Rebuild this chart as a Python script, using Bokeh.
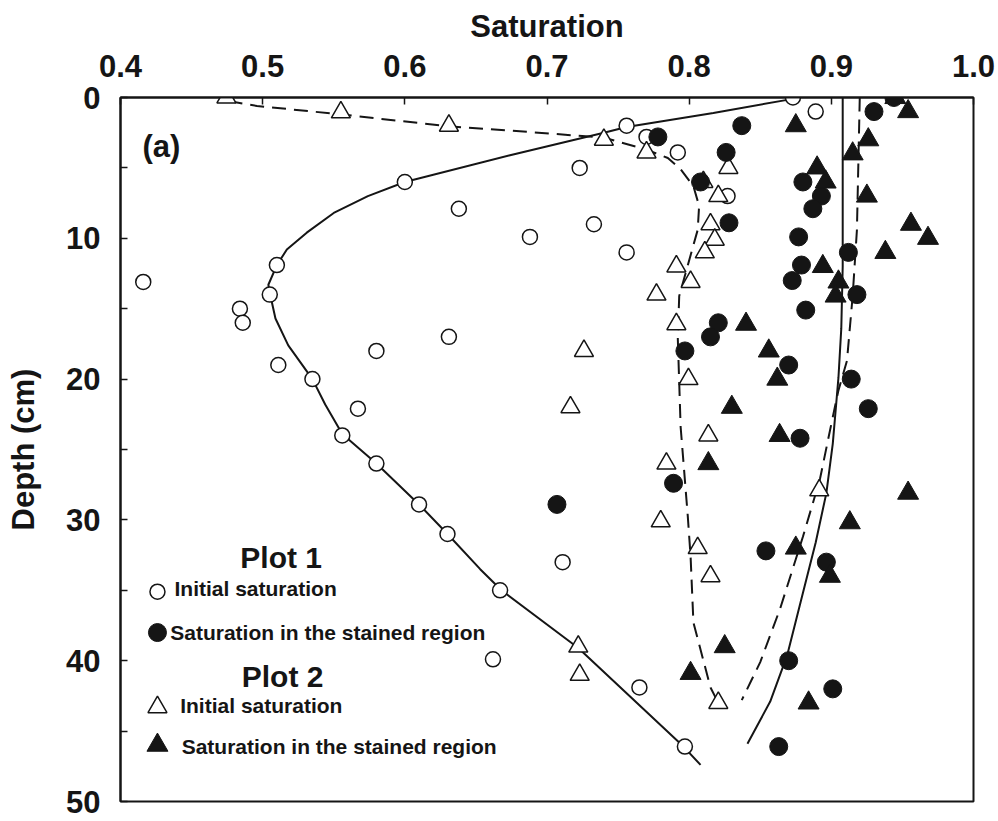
from bokeh.plotting import figure
from bokeh.models import Range1d, FixedTicker, PrintfTickFormatter
from bokeh.core.properties import value
from bokeh.embed import file_html
from bokeh.resources import INLINE

# ---------------- data ----------------
# Plot 1 - initial saturation (open circles)
p1_init_sat = [0.873, 0.889, 0.756, 0.770, 0.792, 0.723, 0.600, 0.827, 0.638, 0.733,
               0.688, 0.756, 0.510, 0.416, 0.505, 0.484, 0.486, 0.631, 0.580, 0.511,
               0.535, 0.567, 0.556, 0.580, 0.610, 0.630, 0.711, 0.667, 0.662, 0.765, 0.797]
p1_init_depth = [0, 1, 2, 2.8, 3.9, 5, 6, 7, 7.9, 9,
                 9.9, 11, 11.9, 13.1, 14, 15, 16, 17, 18, 19,
                 20, 22.1, 24, 26, 28.9, 31, 33, 35, 39.9, 41.9, 46.1]

# Plot 1 - saturation in the stained region (filled circles)
p1_stain_sat = [0.944, 0.930, 0.837, 0.778, 0.826, 0.808, 0.880, 0.893, 0.887, 0.828,
                0.877, 0.912, 0.879, 0.8725, 0.918, 0.882, 0.8205, 0.815, 0.797, 0.870,
                0.914, 0.926, 0.878, 0.789, 0.707, 0.854, 0.8965, 0.870, 0.901, 0.863]
p1_stain_depth = [0, 1, 2, 2.8, 3.9, 6, 6, 7, 7.9, 8.9,
                  9.9, 11, 11.9, 13, 14, 15.1, 16, 17, 18, 19,
                  20, 22.1, 24.2, 27.4, 28.9, 32.2, 33, 40, 42, 46.1]

# Plot 2 - initial saturation (open triangles)
p2_init_sat = [0.4745, 0.555, 0.631, 0.740, 0.770, 0.8276, 0.810, 0.8205, 0.815, 0.818,
               0.811, 0.791, 0.801, 0.777, 0.791, 0.726, 0.7995, 0.7165, 0.8135, 0.784,
               0.8915, 0.780, 0.806, 0.815, 0.722, 0.723, 0.8205]
p2_init_depth = [0, 1.05, 2, 3, 3.9, 5, 6, 7, 9, 10.1,
                 11, 12, 13.1, 14, 16.1, 18, 20, 22, 24, 26,
                 27.9, 30.1, 32, 34, 39, 41, 43]

# Plot 2 - saturation in the stained region (filled triangles)
p2_stain_sat = [0.945, 0.954, 0.875, 0.926, 0.915, 0.890, 0.896, 0.925, 0.956, 0.968,
                0.938, 0.894, 0.905, 0.903, 0.840, 0.856, 0.862, 0.830, 0.8636, 0.8135,
                0.954, 0.913, 0.875, 0.899, 0.825, 0.801, 0.884]
p2_stain_depth = [0, 1, 2, 3, 4, 5, 6, 7, 9, 10,
                  11, 12, 13.1, 14.1, 16.1, 18, 20, 22, 24, 26,
                  28.1, 30.2, 32, 34, 39, 40.9, 43]

# fitted curves
fit1_init_sat = [0.870, 0.817, 0.756, 0.740, 0.674, 0.600, 0.574, 0.550, 0.531,
                 0.517, 0.510, 0.504, 0.5055, 0.509, 0.518, 0.535, 0.544, 0.556, 0.580,
                 0.610, 0.630, 0.653, 0.668, 0.722, 0.796, 0.808]
fit1_init_depth = [0.15, 1.1, 2.1, 2.5, 4.1, 6.0, 7.0, 8.2, 9.6,
                   10.8, 11.9, 13.3, 14.1, 15.7, 17.6, 20.0, 21.8, 23.9, 26.0,
                   28.9, 31.0, 33.5, 35.0, 39.1, 46.1, 47.4]

fit2_init_sat = [0.476, 0.496, 0.555, 0.631, 0.674, 0.740, 0.770, 0.785, 0.794, 0.803,
                 0.807, 0.806, 0.793, 0.792, 0.794, 0.799, 0.801, 0.803, 0.815, 0.820]
fit2_init_depth = [0.25, 0.6, 1.2, 2.05, 2.35, 2.85, 3.7, 4.3, 5.1, 6.3,
                   7.7, 9.4, 14.1, 17.1, 23.4, 29.7, 32.6, 37.3, 41.9, 42.9]

fit1_stain_sat = [0.908, 0.908, 0.907, 0.905, 0.901, 0.8965, 0.889, 0.880, 0.869, 0.857, 0.841]
fit1_stain_depth = [0, 12.0, 16.4, 19.9, 24.6, 28.1, 31.6, 35.2, 39.6, 42.9, 45.9]

fit2_stain_sat = [0.920, 0.918, 0.915, 0.911, 0.905, 0.901, 0.892, 0.880, 0.864, 0.850, 0.837]
fit2_stain_depth = [0, 9.4, 14.1, 18.7, 20.8, 22.7, 27.1, 31.2, 36.3, 40.1, 42.8]

x_ticks = [0.4, 0.5, 0.6, 0.7, 0.8, 0.9, 1.0]
y_ticks = [0, 10, 20, 30, 40, 50]
y_minor_ticks = [5, 15, 25, 35, 45]

legend_headers = ["Plot 1", "Plot 2"]
legend_labels = ["Initial saturation", "Saturation in the stained region",
                 "Initial saturation", "Saturation in the stained region"]
panel_label = "(a)"

# ---------------- figure ----------------
FONT = "Liberation Sans"
INK = "#151515"
DASH = "14 8"

p = figure(width=998, height=821, x_range=Range1d(0.4, 1.0), y_range=Range1d(50, 0),
           x_axis_location="above", output_backend="svg", toolbar_location=None,
           min_border_left=120, min_border_right=25, min_border_top=97, min_border_bottom=20)
p.background_fill_color = "white"
p.border_fill_color = "white"
p.xgrid.visible = False
p.ygrid.visible = False
p.outline_line_color = INK
p.outline_line_width = 2

p.xaxis.axis_label = "Saturation"
p.yaxis.axis_label = "Depth (cm)"
p.xaxis.ticker = FixedTicker(ticks=x_ticks)
p.xaxis.formatter = PrintfTickFormatter(format="%.1f")
p.yaxis.ticker = FixedTicker(ticks=y_ticks, minor_ticks=y_minor_ticks)

for ax in (p.xaxis, p.yaxis):
    ax.axis_line_color = INK
    ax.axis_line_width = 2
    ax.major_tick_line_color = INK
    ax.major_tick_line_width = 1.5
    ax.major_tick_in = 7
    ax.major_tick_out = 0
    ax.minor_tick_line_color = INK
    ax.minor_tick_line_width = 1.5
    ax.minor_tick_in = 7
    ax.minor_tick_out = 0
    ax.major_label_text_font = FONT
    ax.major_label_text_font_style = "bold"
    ax.major_label_text_font_size = "31px"
    ax.major_label_text_color = INK
    ax.axis_label_text_font = FONT
    ax.axis_label_text_font_style = "bold"
    ax.axis_label_text_font_size = "31px"
    ax.axis_label_text_color = INK

p.xaxis.major_label_standoff = 21
p.xaxis.axis_label_standoff = 8
p.yaxis.major_label_standoff = 20
p.yaxis.axis_label_standoff = 22

# curves
p.line(fit1_init_sat, fit1_init_depth, line_color=INK, line_width=2)
p.line(fit2_init_sat, fit2_init_depth, line_color=INK, line_width=2, line_dash=DASH)
p.line(fit1_stain_sat, fit1_stain_depth, line_color=INK, line_width=2)
p.line(fit2_stain_sat, fit2_stain_depth, line_color=INK, line_width=2, line_dash=DASH)

# markers
p.scatter(p1_init_sat, p1_init_depth, marker="circle", size=15,
          fill_color="white", line_color=INK, line_width=1.5)
p.scatter(p2_init_sat, p2_init_depth, marker="triangle", size=19,
          fill_color="white", line_color=INK, line_width=1.5)
p.scatter(p1_stain_sat, p1_stain_depth, marker="circle", size=18,
          fill_color=INK, line_color=INK, line_width=1)
p.scatter(p2_stain_sat, p2_stain_depth, marker="triangle", size=21,
          fill_color=INK, line_color=INK, line_width=1)

# panel label
p.text(x=[0.4155], y=[3.5], text=[panel_label], text_font=value(FONT),
       text_font_style="bold", text_font_size="31px", text_color=INK,
       text_align="left", text_baseline="middle")

# legend (drawn by hand, as in the original)
p.text(x=[0.513, 0.514], y=[32.7, 41.1], text=legend_headers, text_font=value(FONT),
       text_font_style="bold", text_font_size="30px", text_color=INK,
       text_align="center", text_baseline="middle")
p.text(x=[0.438, 0.435, 0.442, 0.443], y=[34.9, 38.0, 43.2, 46.1], text=legend_labels,
       text_font=value(FONT), text_font_style="bold", text_font_size="21px",
       text_color=INK, text_align="left", text_baseline="middle")
p.scatter([0.426], [35.1], marker="circle", size=15, fill_color="white",
          line_color=INK, line_width=1.5)
p.scatter([0.426], [38.0], marker="circle", size=18, fill_color=INK,
          line_color=INK, line_width=1)
p.scatter([0.426], [43.3], marker="triangle", size=19, fill_color="white",
          line_color=INK, line_width=1.5)
p.scatter([0.426], [46.0], marker="triangle", size=21, fill_color=INK,
          line_color=INK, line_width=1)

open("out.html", "w").write(file_html(p, INLINE))
